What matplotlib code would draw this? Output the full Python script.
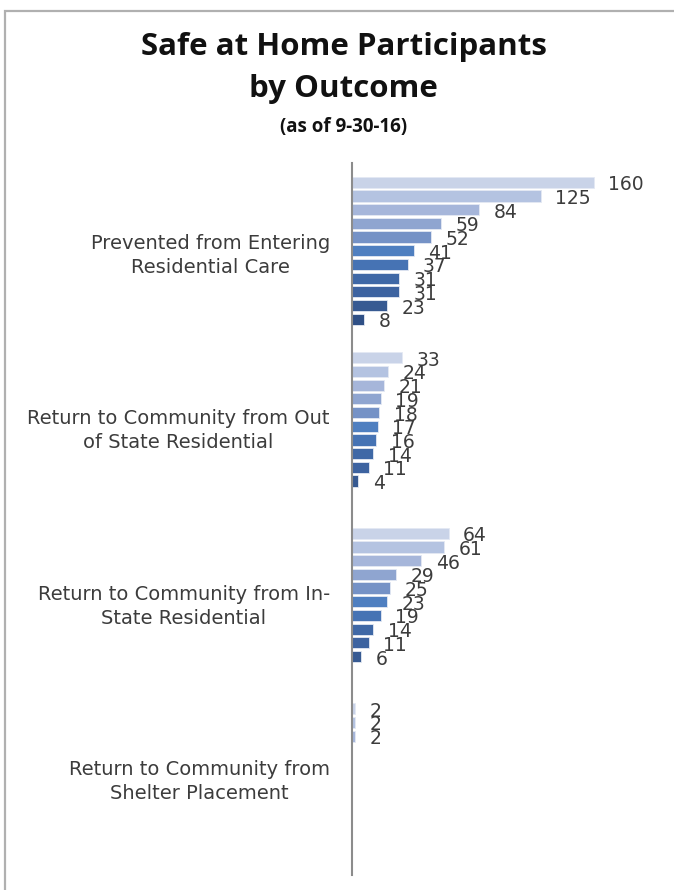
import numpy as np
import matplotlib
matplotlib.use("Agg")
import matplotlib.pyplot as plt
from matplotlib.patches import Rectangle

# ------------------------------------------------------------------
# Safe at Home participants by outcome (as of 9-30-16)
# ------------------------------------------------------------------
outcomes = [
    "Prevented from Entering\nResidential Care",
    "Return to Community from Out\nof State Residential",
    "Return to Community from In-\nState Residential",
    "Return to Community from\nShelter Placement",
]

# one list per outcome, series 1..11 top to bottom (None = no value)
prevented = [160, 125, 84, 59, 52, 41, 37, 31, 31, 23, 8]
out_of_state = [33, 24, 21, 19, 18, 17, 16, 14, 11, 4, None]
in_state = [64, 61, 46, 29, 25, 23, 19, 14, 11, 6, None]
shelter = [2, 2, 2, None, None, None, None, None, None, None, None]

series_colors = ["#c9d3e8", "#b4c3e1", "#a6b6da", "#8fa5d0", "#7592c6",
                 "#4f7fc0", "#4673b4", "#3f68a6", "#3d63a0", "#375a92",
                 "#2f5086"]

text_color = "#3c3c3c"

fig = plt.figure(figsize=(6.74, 8.90), dpi=100)

# outer chart-area border (runs off the right and bottom edges)
fig.patches.append(Rectangle((5 / 674, -0.05), 1.0, 1 - 11 / 890 + 0.05,
                             transform=fig.transFigure, fill=False,
                             edgecolor="#b0b0b0", linewidth=1.6))

title_kw = dict(ha="center", va="center", fontweight="bold",
                family="Open Sans", color="#111111")
fig.text(0.51, 1 - 47 / 890, "Safe at Home Participants", fontsize=22.5, **title_kw)
fig.text(0.51, 1 - 89 / 890, "by Outcome", fontsize=22.5, **title_kw)
fig.text(0.51, 1 - 127 / 890, "(as of 9-30-16)", fontsize=13.5, **title_kw)

ax_left = 352 / 674
ax_top = 163 / 890
ax_bot = 875 / 890
ax = fig.add_axes([ax_left, 1 - ax_bot, 1 - ax_left, ax_bot - ax_top])

groups = [prevented, out_of_state, in_state, shelter]
n_series = len(series_colors)
pitch = 0.078
bar_h = 0.064

for gi, vals in enumerate(groups):
    for si, v in enumerate(vals):
        if v is None:
            continue
        y = gi - (n_series - 1) / 2 * pitch + si * pitch
        ax.barh(y, v, height=bar_h, color=series_colors[si],
                edgecolor="#e4e9f3", linewidth=0.6)
        ax.annotate(str(v), (v, y), xytext=(10.5, -1.8), textcoords="offset points",
                    ha="left", va="center", fontsize=13.5, color=text_color,
                    family="DejaVu Sans")

scale = 1.51  # px per participant
ax.set_xlim(0, (674 - 352) / scale)
span = (ax_bot - ax_top) * 890 / 175.5
ax.set_ylim(-0.5 + span, -0.5)

ax.set_yticks(range(len(outcomes)))
ax.set_yticklabels(outcomes, multialignment="center", fontsize=14,
                   family="DejaVu Sans", color=text_color, linespacing=1.33)
ax.tick_params(axis="y", length=0, pad=16)
ax.xaxis.set_visible(False)

for side in ["top", "right", "bottom"]:
    ax.spines[side].set_visible(False)
ax.spines["left"].set_color("#8c8c8c")
ax.spines["left"].set_linewidth(1.5)

fig.savefig("out.png", dpi=100)
